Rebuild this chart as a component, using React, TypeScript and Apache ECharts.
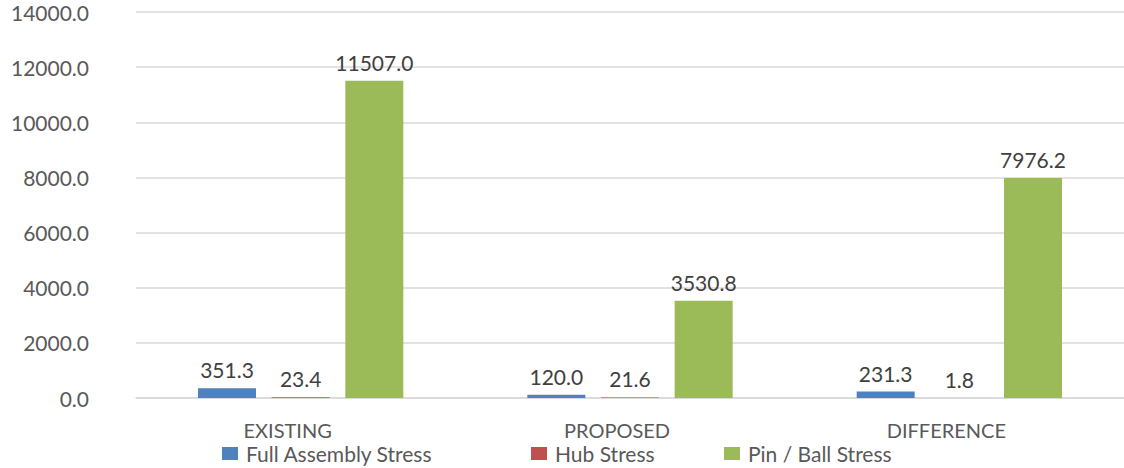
import React, { useEffect, useRef } from "react";
import * as echarts from "echarts";

const categories = ["EXISTING", "PROPOSED", "DIFFERENCE"];
const fullAssembly = [351.3, 120.0, 231.3];
const hubStress = [23.4, 21.6, 1.8];
const pinBall = [11507.0, 3530.8, 7976.2];
const seriesNames = ["Full Assembly Stress", "Hub Stress", "Pin / Ball Stress"];
const seriesColors = ["#4F81BD", "#C0504D", "#9BBB59"];

const FONT = "Lato, 'Open Sans', sans-serif";

export default function App() {
  const ref = useRef<HTMLDivElement>(null);

  useEffect(() => {
    if (!ref.current) return;
    const chart = echarts.init(ref.current, undefined, { renderer: "svg" });
    const values = [fullAssembly, hubStress, pinBall];
    const legendLefts = [222, 531, 724];

    chart.setOption({
      animation: false,
      textStyle: { fontFamily: FONT },
      grid: { left: 136, top: 12, width: 996, bottom: 70, containLabel: false },
      legend: seriesNames.map((name, i) => ({
        data: [name],
        left: legendLefts[i],
        top: 443,
        padding: 0,
        itemWidth: 16,
        itemHeight: 13,
        icon: "rect",
        itemGap: 0,
        textStyle: {
          fontSize: 21,
          lineHeight: 18,
          color: "#595959",
          fontFamily: FONT,
          padding: [0, 0, 0, 3],
        },
      })),
      xAxis: {
        type: "category",
        data: categories,
        axisLine: { show: true, lineStyle: { color: "#d9d9d9", width: 1.5 } },
        axisTick: { show: false },
        axisLabel: {
          fontSize: 20,
          lineHeight: 18,
          color: "#595959",
          fontFamily: FONT,
          margin: 23,
          padding: [0, 26, 0, 0],
        },
      },
      yAxis: {
        type: "value",
        min: 0,
        max: 14000,
        interval: 2000,
        axisLine: { show: false },
        axisTick: { show: false },
        splitLine: { lineStyle: { color: "#d9d9d9", width: 1.5 } },
        axisLabel: {
          fontSize: 21,
          color: "#595959",
          fontFamily: FONT,
          margin: 47,
          padding: [10, 0, 0, 0],
          formatter: (v: number) => v.toFixed(1),
        },
      },
      series: values.map((data, i) => ({
        name: seriesNames[i],
        type: "bar",
        data,
        barWidth: 58,
        barGap: "27%",
        itemStyle: { color: seriesColors[i] },
        label: {
          show: true,
          position: "top",
          distance: 8,
          fontSize: 21,
          color: "#404040",
          fontFamily: FONT,
          formatter: (p: any) => Number(p.value).toFixed(1),
        },
      })),
    });

    return () => chart.dispose();
  }, []);

  return (
    <div
      ref={ref}
      style={{ position: "absolute", left: 0, top: 0, width: 1124, height: 468, background: "#fff" }}
    />
  );
}
